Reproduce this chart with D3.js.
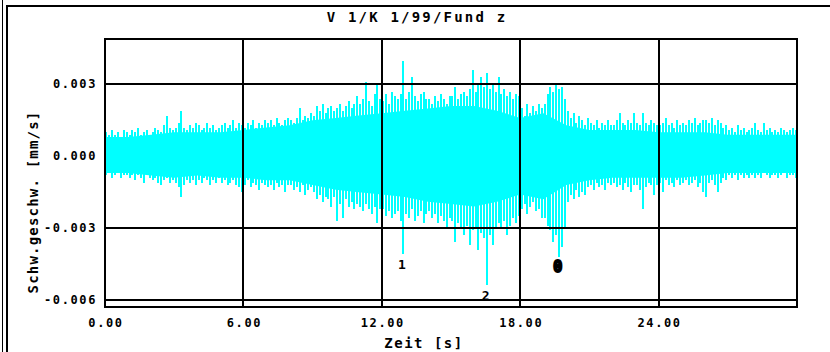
<!DOCTYPE html>
<html>
<head>
<meta charset="utf-8">
<script src="https://cdn.jsdelivr.net/npm/d3@7"></script>
<style>
  html, body { margin: 0; padding: 0; background: #fff; }
  svg { display: block; }
  text { font-family: "DejaVu Sans Mono", monospace; font-weight: bold; fill: #000; }
  line, rect { shape-rendering: crispEdges; }
</style>
</head>
<body>
<svg width="830" height="352"></svg>
<script>
// Chart texts
const chartTitle = 'V 1/K 1/99/Fund z';
const xTitle = 'Zeit [s]';
const yTitle = 'Schw.geschw.  [mm/s]';

// Tick values / labels
const xTicks = [0, 6, 12, 18, 24];
const yTicks = [0.003, 0, -0.003, -0.006];

// Signal, in units of 1e-4 mm/s.
// Dense core of the trace, one value per second (0..30 s)
const coreUpper = [8, 8, 9, 10, 10, 10, 11, 12, 13, 15, 16, 17, 18, 19, 20, 21,
  21, 19, 16, 18, 13, 11, 11, 11, 10, 10, 10, 9, 9, 9, 9];
const coreLower = [-7, -7, -8, -9, -8, -9, -9, -10, -10, -12, -14, -15, -16, -17, -19, -20,
  -21, -19, -16, -18, -12, -10, -9, -9, -9, -9, -8, -7, -7, -7, -7];

// Spike tips, one value every 0.125 s (upper and lower extreme of each slice)
const sampleStep = 0.125;
const upper = [
  10, 9, 11, 9, 10, 8, 11, 10,
  9, 11, 10, 12, 9, 10, 11, 9,
  10, 12, 11, 10, 13, 17, 12, 11,
  12, 14, 19, 12, 11, 13, 12, 14,
  13, 11, 12, 14, 12, 13, 11, 12,
  13, 14, 12, 13, 15, 12, 14, 13,
  12, 14, 13, 15, 12, 14, 13, 15,
  14, 15, 13, 16, 14, 13, 15, 16,
  15, 14, 16, 20, 15, 17, 16, 18,
  17, 21, 19, 22, 18, 20, 21, 19,
  20, 22, 19, 21, 23, 20, 22, 25,
  22, 24, 31, 23, 21, 26, 30, 24,
  23, 26, 22, 27, 25, 24, 26, 40,
  24, 27, 33, 25, 23, 26, 27, 24,
  24, 22, 25, 23, 26, 24, 22, 25,
  25, 29, 24, 26, 27, 25, 28, 36,
  27, 30, 33, 29, 35, 28, 30, 27,
  33, 26, 28, 25, 27, 24, 26, 25,
  20, 17, 22, 18, 21, 19, 22, 20,
  22, 26, 29, 27, 30, 28, 29, 24,
  19, 16, 18, 14, 17, 15, 13, 16,
  14, 13, 15, 12, 14, 13, 15, 13,
  13, 15, 18, 14, 13, 15, 14, 18,
  14, 13, 18, 14, 13, 15, 14, 13,
  13, 14, 16, 13, 14, 12, 15, 13,
  14, 13, 15, 14, 16, 13, 14, 15,
  15, 14, 16, 13, 15, 14, 12, 13,
  11, 12, 10, 13, 11, 12, 10, 11,
  12, 14, 11, 10, 14, 11, 12, 10,
  11, 10, 12, 11, 10, 11, 12, 11
];
const lower = [
  -8, -7, -9, -8, -7, -9, -8, -8,
  -9, -8, -10, -8, -9, -11, -8, -9,
  -10, -9, -11, -12, -10, -9, -11, -10,
  -11, -13, -17, -12, -10, -11, -10, -12,
  -10, -11, -9, -10, -12, -10, -11, -9,
  -11, -10, -12, -11, -10, -12, -13, -15,
  -12, -10, -13, -11, -12, -14, -11, -12,
  -13, -12, -14, -11, -13, -12, -15, -12,
  -12, -14, -13, -15, -12, -16, -14, -13,
  -15, -18, -16, -19, -17, -18, -21, -17,
  -27, -20, -26, -18, -21, -19, -22, -20,
  -21, -23, -20, -22, -24, -21, -28, -22,
  -22, -25, -23, -26, -24, -23, -27, -41,
  -24, -26, -22, -27, -25, -23, -28, -24,
  -23, -26, -24, -28, -25, -27, -30, -26,
  -27, -36, -28, -30, -33, -29, -37, -31,
  -30, -39, -32, -34, -54, -33, -37, -30,
  -28, -30, -27, -33, -29, -26, -28, -25,
  -22, -20, -24, -21, -19, -23, -22, -26,
  -26, -29, -31, -36, -33, -42, -38, -30,
  -19, -16, -18, -14, -17, -15, -16, -13,
  -12, -14, -11, -13, -12, -14, -11, -12,
  -11, -13, -12, -14, -11, -13, -15, -12,
  -12, -14, -22, -13, -11, -12, -16, -12,
  -11, -15, -10, -12, -11, -13, -10, -12,
  -11, -10, -12, -11, -10, -13, -11, -15,
  -17, -11, -10, -12, -15, -11, -9, -10,
  -8, -9, -8, -10, -8, -9, -8, -9,
  -8, -9, -8, -9, -7, -8, -9, -8,
  -8, -9, -8, -7, -9, -8, -8, -9
];

// Peak markers (label, time, value at spike tip)
const markerLabels = ['1', '2', '0'];
const markerTimes = [12.875, 16.5, 19.625];
const markerValues = [-0.0041, -0.0054, -0.0042];

const svg = d3.select('svg');
const width = +svg.attr('width');
const height = +svg.attr('height');

// Plot area
const plotLeft = 105;
const plotRight = 797;
const plotTop = 39;
const plotBottom = 307;

const xScale = d3.scaleLinear().domain([0, 30]).range([plotLeft, plotRight]);
const yScale = d3.scaleLinear().domain([-0.0063, 0.0049]).range([plotBottom, plotTop]);

// Outer page frame
svg.append('line')
  .attr('x1', 2).attr('y1', 0).attr('x2', 2).attr('y2', height)
  .attr('stroke', '#000').attr('stroke-width', 1);
svg.append('path')
  .attr('d', `M7,${height} L7,6 L${width},6`)
  .attr('fill', 'none')
  .attr('stroke', '#000').attr('stroke-width', 2);

// Title
svg.append('text')
  .attr('x', 417).attr('y', 22)
  .attr('text-anchor', 'middle')
  .attr('font-size', 14)
  .attr('letter-spacing', 2.2)
  .text(chartTitle);

const signalG = svg.append('g');

// solid core of the signal
const core = coreUpper.map((u, i) => ({ t: i, hi: u / 10000, lo: coreLower[i] / 10000 }));

const coreArea = d3.area()
  .x(d => xScale(d.t))
  .y0(d => yScale(d.lo))
  .y1(d => yScale(d.hi));

signalG.append('path')
  .datum(core)
  .attr('d', coreArea)
  .attr('fill', '#00ffff');

// needles (extreme of each slice)
const samples = upper.map((u, i) => ({
  t: Math.min(i * sampleStep + sampleStep / 2, 30),
  hi: u / 10000,
  lo: lower[i] / 10000
}));

signalG.selectAll('line').data(samples)
  .enter().append('line')
    .attr('x1', d => xScale(d.t)).attr('x2', d => xScale(d.t))
    .attr('y1', d => yScale(d.lo)).attr('y2', d => yScale(d.hi))
    .attr('stroke', '#00ffff')
    .attr('stroke-width', 2);

// Grid lines (drawn above signal, as in the original plot)
const gridG = svg.append('g');

gridG.selectAll('.vgrid').data(xTicks.filter(d => d > 0))
  .enter().append('line')
    .attr('class', 'vgrid')
    .attr('x1', d => xScale(d)).attr('x2', d => xScale(d))
    .attr('y1', plotTop).attr('y2', plotBottom)
    .attr('stroke', '#000').attr('stroke-width', 2);

gridG.selectAll('.hgrid').data(yTicks.filter(d => d !== 0))
  .enter().append('line')
    .attr('class', 'hgrid')
    .attr('x1', plotLeft).attr('x2', plotRight)
    .attr('y1', d => yScale(d)).attr('y2', d => yScale(d))
    .attr('stroke', '#000').attr('stroke-width', 2);

// Plot frame
svg.append('rect')
  .attr('x', plotLeft).attr('y', plotTop)
  .attr('width', plotRight - plotLeft)
  .attr('height', plotBottom - plotTop)
  .attr('fill', 'none')
  .attr('stroke', '#000').attr('stroke-width', 2);

// Y tick labels
svg.selectAll('.ylab').data(yTicks)
  .enter().append('text')
    .attr('class', 'ylab')
    .attr('x', 97)
    .attr('y', d => yScale(d) + 4)
    .attr('text-anchor', 'end')
    .attr('font-size', 12)
    .attr('letter-spacing', 1.6)
    .text(d => d3.format('.3f')(d).replace('−', '-'));

// X tick labels
svg.selectAll('.xlab').data(xTicks)
  .enter().append('text')
    .attr('class', 'xlab')
    .attr('x', d => xScale(d) + 1)
    .attr('y', 327)
    .attr('text-anchor', 'middle')
    .attr('font-size', 12)
    .attr('letter-spacing', 1.6)
    .text(d => d3.format('.2f')(d));

// Axis titles
svg.append('text')
  .attr('x', 424).attr('y', 348)
  .attr('text-anchor', 'middle')
  .attr('font-size', 14)
  .attr('letter-spacing', 1.5)
  .text(xTitle);

svg.append('text')
  .attr('transform', 'translate(38,202) rotate(-90)')
  .attr('text-anchor', 'middle')
  .attr('font-size', 14)
  .attr('letter-spacing', 1.2)
  .text(yTitle);

// Peak markers
svg.selectAll('.marker').data(markerLabels)
  .enter().append('text')
    .attr('class', 'marker')
    .attr('x', (d, i) => xScale(markerTimes[i]))
    .attr('y', (d, i) => yScale(markerValues[i]) + 15)
    .attr('text-anchor', 'middle')
    .attr('font-size', d => d === '0' ? 15 : 13)
    .attr('stroke', d => d === '0' ? '#000' : 'none')
    .attr('stroke-width', 2)
    .text(d => d);
</script>
</body>
</html>
